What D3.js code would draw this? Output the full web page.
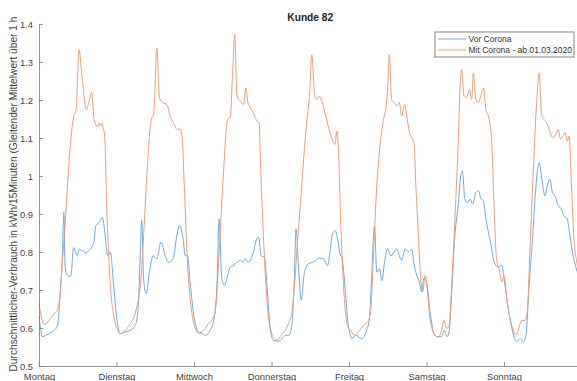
<!DOCTYPE html>
<html>
<head>
<meta charset="utf-8">
<script src="https://cdn.jsdelivr.net/npm/d3@7"></script>
<style>
  body { margin: 0; background: #fff; }
  svg { display: block; font-family: "Liberation Sans", Arial, sans-serif; }
</style>
</head>
<body>
<div id="chart"></div>
<script>
const days = ['Montag', 'Dienstag', 'Mittwoch', 'Donnerstag', 'Freitag', 'Samstag', 'Sonntag']
const yTicks = [0.5, 0.6, 0.7, 0.8, 0.9, 1, 1.1, 1.2, 1.3, 1.4]
const seriesNames = ['Vor Corona', 'Mit Corona - ab 01.03.2020']

// [stunde seit Montag 0 Uhr, kWh/15min]
const vorCorona = [
  [0, 0.63], [0.6, 0.595], [1, 0.577], [2, 0.58], [3, 0.585], [4, 0.59], [5.2, 0.598], [5.8, 0.61],
  [6.6, 0.695], [7.2, 0.78], [7.7, 0.904], [8.1, 0.76], [8.7, 0.74], [9.5, 0.735], [9.9, 0.738],
  [10.7, 0.812], [11.3, 0.8], [11.8, 0.79], [12.6, 0.808], [13.3, 0.802], [13.8, 0.804], [14.5, 0.795],
  [14.9, 0.8], [15.9, 0.808], [17, 0.826], [17.6, 0.87], [18.3, 0.875], [19, 0.883], [19.6, 0.891],
  [20.5, 0.843], [21, 0.8], [21.4, 0.79], [22.1, 0.8], [23.1, 0.712], [24.1, 0.625],
  [25.2, 0.585], [26.7, 0.59], [28.3, 0.594], [29.8, 0.607], [30.6, 0.642], [31.4, 0.8], [31.8, 0.883],
  [32.4, 0.73], [33.2, 0.69], [34.2, 0.747], [35.3, 0.79], [36.5, 0.782], [37.8, 0.826], [39.1, 0.79],
  [40.1, 0.773], [41.5, 0.782], [42.7, 0.843], [43.5, 0.87], [44.6, 0.835], [45.3, 0.79], [46, 0.79],
  [46.8, 0.72], [48.1, 0.625],
  [49.4, 0.59], [50.5, 0.586], [51.5, 0.581], [53, 0.594], [54.1, 0.62], [55.1, 0.712], [55.8, 0.887],
  [56.6, 0.73], [57.5, 0.712], [58.2, 0.73], [59.2, 0.76], [60.2, 0.765], [61.3, 0.773], [62.3, 0.778],
  [63.1, 0.773], [63.9, 0.782], [64.8, 0.773], [65.7, 0.782], [66.4, 0.8], [67.1, 0.826], [68, 0.839],
  [68.8, 0.79], [69.8, 0.786], [70.6, 0.712], [71.6, 0.599],
  [72.6, 0.568], [74.2, 0.565], [75.2, 0.572], [76.4, 0.581], [77.4, 0.581], [78.3, 0.607], [79, 0.712],
  [79.6, 0.861], [80.4, 0.756], [81.2, 0.673], [82.2, 0.747], [83.4, 0.769], [84.7, 0.773], [85.7, 0.778],
  [86.7, 0.784], [88.1, 0.782], [89.4, 0.765], [90.1, 0.8], [90.9, 0.848], [91.7, 0.856], [92.5, 0.834],
  [93.2, 0.795], [93.9, 0.782], [94.8, 0.703], [95.8, 0.607],
  [97, 0.572], [98, 0.581], [100, 0.572], [101.3, 0.59], [102.3, 0.625], [103, 0.73], [103.9, 0.869],
  [104.6, 0.747], [105.4, 0.756], [106.2, 0.725], [107, 0.773], [107.9, 0.808], [109, 0.79], [110, 0.8],
  [110.8, 0.808], [111.6, 0.79], [112.3, 0.778], [113.4, 0.808], [114.4, 0.8], [115.4, 0.808],
  [116.2, 0.765], [117, 0.738], [117.8, 0.721], [118.5, 0.695], [119.2, 0.73], [120, 0.721],
  [121.1, 0.642], [122.3, 0.586],
  [123.2, 0.577], [124.7, 0.577], [125.5, 0.594], [126.3, 0.577], [127, 0.59], [127.8, 0.695],
  [128.8, 0.843], [129.9, 0.93], [130.6, 1.0], [131.1, 1.013], [131.9, 0.939], [132.6, 0.93],
  [133.5, 0.939], [134.3, 0.926], [135.3, 0.957], [136.1, 0.961], [136.9, 0.939], [137.6, 0.935],
  [138.4, 0.887], [139.4, 0.843], [140.2, 0.808],
  [140.7, 0.782], [141.5, 0.765], [142.2, 0.76], [143.3, 0.765], [144, 0.73], [145.3, 0.651],
  [146.7, 0.59], [147.9, 0.564], [149.1, 0.572], [150, 0.564], [150.8, 0.581], [151.8, 0.712],
  [152.9, 0.843], [153.9, 0.974], [154.9, 1.035], [155.6, 1.0], [156.7, 0.948], [157.4, 0.974],
  [158.2, 0.992], [159, 0.957], [159.8, 0.948], [160.8, 0.922], [161.8, 0.913], [162.5, 0.896],
  [163.6, 0.887], [164.4, 0.843], [165.4, 0.79], [166.6, 0.75], [168, 0.71]
]

const mitCorona = [
  [0, 0.665], [0.7, 0.63], [1.5, 0.61], [2, 0.61], [3.5, 0.625], [5, 0.64], [5.6, 0.645], [6.6, 0.695],
  [7.3, 0.78], [8.2, 0.887], [9.5, 1.06], [10.7, 1.155], [11.5, 1.175], [12.4, 1.332], [13.3, 1.262],
  [14.7, 1.174], [15.5, 1.197], [16.3, 1.22], [17.1, 1.149], [18, 1.13], [18.6, 1.14], [19, 1.132],
  [19.4, 1.14], [19.8, 1.128], [20.3, 1.11], [21.1, 0.887], [22.1, 0.712], [23.3, 0.625],
  [24.7, 0.59], [25.2, 0.585], [26.7, 0.594], [28.3, 0.612], [29.8, 0.638], [30.4, 0.66], [31.4, 0.712],
  [32.4, 0.843], [33.4, 1.0], [34.8, 1.149], [35.5, 1.162], [36.5, 1.337], [37.3, 1.206], [38.4, 1.193],
  [39.6, 1.188], [40.6, 1.158], [41.7, 1.14], [42.7, 1.123], [43.7, 1.123], [44.3, 1.105], [45, 0.974],
  [45.8, 0.8], [47.3, 0.642],
  [48.6, 0.595], [49.4, 0.586], [51, 0.594], [52.5, 0.612], [54.1, 0.629], [54.8, 0.66], [55.8, 0.8],
  [57.2, 1.018], [58.4, 1.149], [59.2, 1.153], [60, 1.28], [60.6, 1.372], [61.3, 1.21], [62.3, 1.197],
  [63.3, 1.188], [64.1, 1.232], [64.7, 1.193], [65.4, 1.18], [66.4, 1.166], [67.5, 1.145], [68.2, 1.14],
  [68.5, 1.061], [69.5, 0.843], [70.6, 0.669], [71.9, 0.59],
  [73.1, 0.572], [73.7, 0.568], [75, 0.581], [76.2, 0.594], [77.4, 0.615], [78.3, 0.64], [79.2, 0.72],
  [80, 0.82], [81, 0.93], [82, 1.05], [83, 1.15], [83.8, 1.215], [84.5, 1.319], [85.3, 1.219],
  [86, 1.201], [86.7, 1.21], [87.6, 1.197], [88.8, 1.158], [90.1, 1.114], [91.2, 1.088], [91.7, 1.083],
  [92.2, 1.118], [92.7, 1.079], [93.4, 0.887], [94.3, 0.712], [95.8, 0.599],
  [96.4, 0.595], [97.6, 0.581], [98.9, 0.59], [100.5, 0.607], [102, 0.62], [102.7, 0.642], [103.6, 0.8],
  [104.6, 0.974], [105.6, 1.079], [106.7, 1.149], [107.5, 1.184], [108, 1.236], [108.5, 1.319],
  [109.2, 1.201], [110, 1.193], [110.8, 1.184], [111.6, 1.193], [112.3, 1.158], [113.2, 1.188],
  [113.9, 1.158], [114.7, 1.114], [115.4, 1.101], [116.1, 1.088], [116.8, 0.957], [117.5, 0.843],
  [118.2, 0.73], [118.8, 0.695], [119.6, 0.738], [120.1, 0.712], [121.1, 0.625], [122.6, 0.581],
  [123.7, 0.577], [124.7, 0.594], [125.4, 0.62], [126.3, 0.599], [127, 0.607], [127.8, 0.712],
  [128.8, 0.887], [129.9, 1.105], [130.4, 1.236], [130.9, 1.28], [131.6, 1.21], [132.4, 1.206],
  [133.3, 1.227], [134, 1.201], [134.5, 1.271], [135.3, 1.201], [136.1, 1.193], [136.9, 1.214],
  [137.6, 1.232], [138.4, 1.175], [139.4, 1.149], [140.2, 1.088],
  [140.9, 0.93], [141.7, 0.78], [142.5, 0.755], [143.3, 0.721], [144, 0.738], [145, 0.669],
  [146.4, 0.607], [147.7, 0.581], [148.4, 0.594], [149.5, 0.62], [150.5, 0.62], [151.2, 0.642],
  [152, 0.8], [153.1, 1.018], [154.1, 1.193], [154.9, 1.271], [155.6, 1.166], [156.4, 1.149],
  [157.2, 1.14], [158, 1.123], [159, 1.101], [160.1, 1.11], [160.8, 1.123], [161.5, 1.097],
  [162.3, 1.105], [162.9, 1.114], [163.6, 1.092], [164.2, 1.105], [164.9, 0.974], [165.6, 0.843],
  [166.6, 0.77], [168, 0.72]
]

const width = 577
const height = 381
const margin = { top: 24, right: -4.5, bottom: 15, left: 39 }
const colors = ['#72aad9', '#e6a080']
const axisColor = '#7a7a7a'
const textColor = '#444'

const xScale = d3.scaleLinear()
  .domain([0, 168])
  .range([margin.left, width - margin.right])

const yScale = d3.scaleLinear()
  .domain([0.5, 1.4])
  .range([height - margin.bottom, margin.top])

const svg = d3.select('#chart')
  .append('svg')
  .attr('width', width)
  .attr('height', height)

const line = d3.line()
  .x(d => xScale(d[0]))
  .y(d => yScale(d[1]))
  .curve(d3.curveMonotoneX)

svg.append('g')
  .attr('fill', 'none')
  .attr('stroke-width', 1)
  .selectAll('path')
  .data([vorCorona, mitCorona])
  .join('path')
  .attr('stroke', (d, i) => colors[i])
  .attr('d', line)

const xAxis = g => g
  .attr('transform', `translate(0,${height - margin.bottom})`)
  .call(d3.axisBottom(xScale)
    .tickValues(d3.range(0, 168, 24))
    .tickFormat((d, i) => days[i])
    .tickSizeInner(-4)
    .tickSizeOuter(0)
    .tickPadding(7))

const yAxis = g => g
  .attr('transform', `translate(${margin.left},0)`)
  .call(d3.axisLeft(yScale)
    .tickValues(yTicks)
    .tickFormat(d => String(+d.toFixed(1)))
    .tickSizeInner(-4)
    .tickSizeOuter(0)
    .tickPadding(6))

svg.append('g').call(xAxis)
svg.append('g').call(yAxis)

svg.selectAll('.domain, .tick line').attr('stroke', axisColor).attr('stroke-width', 0.8)
svg.selectAll('.tick text')
  .attr('fill', textColor)
  .attr('font-size', 9.4)
  .attr('font-family', '"Liberation Sans", Arial, sans-serif')

svg.append('text')
  .attr('x', (margin.left + xScale(168)) / 2)
  .attr('y', 20.5)
  .attr('text-anchor', 'middle')
  .attr('font-size', 10.2)
  .attr('font-weight', 'bold')
  .attr('fill', '#222')
  .text('Kunde 82')

svg.append('text')
  .attr('transform', `translate(16.5,${(yScale(0.5) + yScale(1.4)) / 2 - 1}) rotate(-90)`)
  .attr('text-anchor', 'middle')
  .attr('font-size', 10.2)
  .attr('fill', textColor)
  .text('Durchschnittlicher-Verbrauch in kWh/15Minuten (Gleitender Mittelwert über 1 h')

// Legende
const legend = svg.append('g').attr('transform', 'translate(435,32)')
legend.append('rect')
  .attr('width', 139)
  .attr('height', 25)
  .attr('fill', '#fff')
  .attr('stroke', '#666')
  .attr('stroke-width', 0.8)

legend.selectAll('g')
  .data(seriesNames)
  .join('g')
  .attr('transform', (d, i) => `translate(0,${7 + i * 11})`)
  .call(g => g.append('line')
    .attr('x1', 3)
    .attr('x2', 31)
    .attr('stroke', (d, i) => colors[i])
    .attr('stroke-width', 1))
  .call(g => g.append('text')
    .attr('x', 33.5)
    .attr('dy', '0.35em')
    .attr('font-size', 8.5)
    .attr('fill', '#333')
    .text(d => d))
</script>
</body>
</html>
